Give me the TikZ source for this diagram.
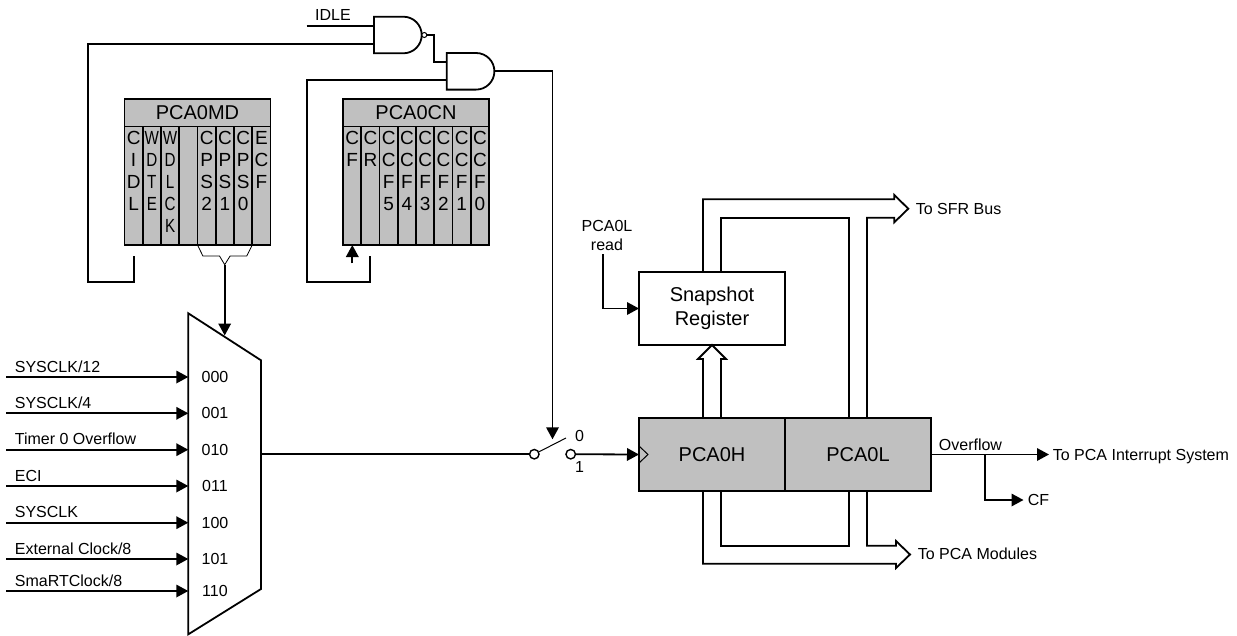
\documentclass[tikz,border=0pt]{standalone}
\usepackage{fontspec}
\setmainfont{Liberation Sans}
\newfontfamily\narrowfont[FakeStretch=0.8]{Liberation Sans}
\usepackage{xcolor}
\usetikzlibrary{arrows.meta,positioning}
\definecolor{regfill}{HTML}{C0C0C0}
\newcommand{\bitstack}[1]{\parbox[c][118.5pt][t]{18.25pt}{\vspace*{4.5pt}\centering\baselineskip=22pt #1\par}}

\begin{document}
\begin{tikzpicture}[
    x=1pt, y=-1pt,
    line width=1.8pt,
    wire/.style={line width=1.8pt, line join=miter},
    arrow/.style={-{Triangle[length=12pt,width=12.5pt]}, line width=1.8pt},
    lab/.style={font=\fontsize{16}{19}\selectfont, inner sep=0pt, align=center},
    biglab/.style={font=\fontsize{20}{24}\selectfont, inner sep=0pt, align=center},
    reghead/.style={rectangle, draw, fill=regfill, minimum width=146pt, minimum height=27.5pt,
                    inner sep=0pt, outer sep=0pt, anchor=north west, font=\fontsize{20}{24}\selectfont},
    bitcell/.style={rectangle, draw, fill=regfill, inner sep=0pt, outer sep=0pt, anchor=north west,
                    minimum width=18.25pt, minimum height=118.5pt,
                    font=\fontsize{19}{22}\selectfont},
    counter/.style={rectangle, draw, fill=regfill, minimum width=146pt, minimum height=73pt,
                    inner sep=0pt, outer sep=0pt, font=\fontsize{20}{24}\selectfont},
    pin/.style={circle, draw, fill=white, minimum size=9.5pt, inner sep=0pt, line width=1.4pt},
    bubble/.style={circle, draw, fill=white, minimum size=5pt, inner sep=0pt, line width=1pt},
    pics/gatebody/.style={code={
        \draw[wire] (0,-18.3) -- (29.4,-18.3) arc[start angle=90, end angle=-90, radius=18.3pt]
              -- (0,18.3) -- cycle;
        \coordinate (-a) at (0,-9.3);
        \coordinate (-b) at (0,9);
        \coordinate (-out) at (47.7,0);
    }}
]
\useasboundingbox (0,0) rectangle (1237,635);

% Registers
\node[reghead] (pcamd) at (124.5,99) {PCA0MD};
\node[reghead] (pcacn) at (343,99) {PCA0CN};
\foreach \lab [count=\i] in {C\\I\\D\\L, {\narrowfont W\\D\\T\\E}, {\narrowfont W\\D\\L\\C\\K}, {},
                             C\\P\\S\\2, C\\P\\S\\1, C\\P\\S\\0, E\\C\\F}
  \node[bitcell] (md\i) at ({124.5+18.25*(\i-1)},126.5) {\bitstack{\lab}};
\foreach \lab [count=\i] in {C\\F, C\\R, C\\C\\F\\5, C\\C\\F\\4, C\\C\\F\\3, C\\C\\F\\2, C\\C\\F\\1, C\\C\\F\\0}
  \node[bitcell] (cn\i) at ({343+18.25*(\i-1)},126.5) {\bitstack{\lab}};

% Gates
\pic (nandg) at (374,35) {gatebody};
\pic (andg) at (446.7,71.3) {gatebody};
\node[bubble] (inv) at (424.3,35) {};
\coordinate (idlein) at (306.7,25.7);
\coordinate (idlepin) at (133.7,255.7);
\coordinate (cfpin) at (370.3,256.3);
\coordinate (cfarrow) at (352.3,263.3);
\node[lab, anchor=base] (idle) at (333,20.5) {IDLE};

\draw[wire] (idlein) -- (nandg-a);
\draw[wire] (nandg-b) -| (88,281.7) -| (idlepin);
\draw[wire] (inv) -- ++(9.7,0) |- (andg-a);
\draw[wire] (andg-b) -| (306.7,281.7) -| (cfpin);
\draw[arrow] (cfarrow) -- (cfarrow |- cn1.south);

% Clock select mux
\coordinate (muxnw) at (188.3,313.3);
\coordinate (muxne) at (261,360.3);
\coordinate (muxse) at (261,589);
\coordinate (muxsw) at (188.3,634.3);
\draw[wire] (muxnw) -- (muxne) -- (muxse) -- (muxsw) -- cycle;
\foreach \y/\lab/\sel [count=\i] in {377/{SYSCLK/12}/000, 413.3/{SYSCLK/4}/001, 449.7/{Timer 0 Overflow}/010,
                                     486/ECI/011, 522.7/SYSCLK/100, 559/{External Clock/8}/101, 591/{SmaRTClock/8}/110}
{
  \coordinate (in\i) at (6,\y);
  \node[lab, anchor=base west] (inlab\i) at (14,\y-4.8) {\lab};
  \node[lab, anchor=base] (sel\i) at (215,\y+5.6) {\sel};
  \draw[arrow] (in\i) -- (in\i -| muxnw);
}
\coordinate (brtip) at (224.7,264.7);
\draw[line width=0.8pt] (md5.south west) -- ++(5.4,11) -- ++(16.6,0) -- (brtip) -- ++(5.4,-8.7)
      -- ++(16.6,0) -- (md7.south east);
\draw[arrow] (brtip) -- (224.7,335.5);

% Switch
\node[pin] (swl) at (534.3,454.2) {};
\node[pin] (swr) at (570.7,454.2) {};
\coordinate (muxout) at (261,454.2);
\coordinate (blade) at (566,438);
\node[lab, anchor=center] (swzero) at (579.5,435.7) {0};
\node[lab, anchor=center] (swone) at (579.5,467) {1};
\draw[wire] (muxout) -- (swl);
\draw[wire, line width=1pt] (swl) -- (blade);
\draw[arrow] (andg-out) -| (552.5,439.3);

% Counter
\node[counter] (pcah) at (712,454.5) {PCA0H};
\node[counter, right=0pt of pcah] (pcal) {PCA0L};
\draw[arrow] (swr) -- (pcah.west);
\draw[wire, line width=1pt] ([yshift=8.5pt]pcah.west) -- ([xshift=9pt]pcah.west) -- ([yshift=-8.5pt]pcah.west);

% Snapshot
\node[rectangle, draw, fill=white, minimum width=146pt, minimum height=73pt, inner sep=0pt, outer sep=0pt,
      biglab] (snap) at (712,308.5) {Snapshot\\Register};
\coordinate (readpin) at (602.7,254);
\node[lab] (pcaread) at (607,235) {PCA0L\\read};
\draw[arrow] (readpin) |- (snap.west);

% Buses
\draw[wire] ([xshift=-9pt]pcah.north) -- ([xshift=-9pt]snap.south |- 0,359) -- (698,359)
      -- (snap.south) -- (726,359) -- ([xshift=9pt]snap.south |- 0,359) -- ([xshift=9pt]pcah.north);
\draw[wire] ([xshift=-9pt]snap.north) |- (894.3,199.3) -- (894.3,195) -- (908.3,208.7) -- (894.3,222.3)
      -- (894.3,217.7) -| ([xshift=9pt]pcal.north);
\draw[wire] ([xshift=9pt]snap.north) |- ([xshift=-9pt]pcal.north |- 0,217.7) -- ([xshift=-9pt]pcal.north);
\draw[wire] ([xshift=-9pt]pcah.south) |- (896,563.7) -- (896,568) -- (910,554.5) -- (896,541)
      -- (896,545.7) -| ([xshift=9pt]pcal.south);
\draw[wire] ([xshift=9pt]pcah.south) |- ([xshift=-9pt]pcal.south |- 0,545.7) -- ([xshift=-9pt]pcal.south);
\node[lab, anchor=base west] (tosfr) at (915,214) {To SFR Bus};
\node[lab, anchor=base west] (tomod) at (917,559.5) {To PCA Modules};

% Overflow
\coordinate (ovfjoin) at (985,454.5);
\coordinate (cfturn) at (985,500);
\node[lab, anchor=base west] (tocf) at (1027,505.5) {CF};
\node[lab, anchor=base west] (toint) at (1052,460) {To PCA Interrupt System};
\node[lab, anchor=base west] (ovf) at (938,450) {Overflow};
\draw[arrow] (pcal.east) -- ([xshift=-3pt]toint.base west |- pcal.east);
\draw[arrow] (ovfjoin) -- (cfturn) -- ([xshift=-3.5pt]tocf.base west |- cfturn);
\end{tikzpicture}
\end{document}
